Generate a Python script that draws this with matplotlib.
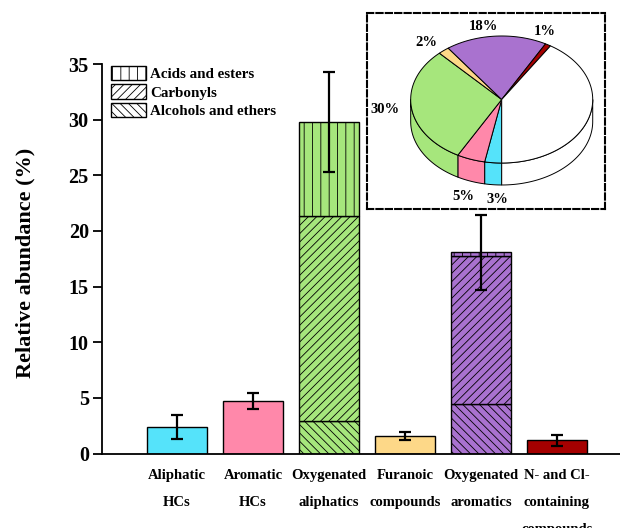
import numpy as np
import matplotlib
matplotlib.use('Agg')
import matplotlib.pyplot as plt
from matplotlib.patches import Patch

plt.rcParams['font.family'] = ['Liberation Serif', 'DejaVu Serif']
plt.rcParams['font.weight'] = 'bold'
plt.rcParams['hatch.linewidth'] = 0.6
plt.rcParams['hatch.color'] = 'black'

# bar data (relative abundance, %)
categories = ['Aliphatic\nHCs', 'Aromatic\nHCs', 'Oxygenated\naliphatics',
              'Furanoic\ncompounds', 'Oxygenated\naromatics',
              'N- and Cl-\ncontaining\ncompounds']
colors = ['#55E3FA', '#FF88AA', '#A6E67C', '#FDD888', '#A972CF', '#A50000']
errors = [1.08, 0.75, 4.5, 0.36, 3.35, 0.5]

plain_idx = [0, 1, 3, 5]
plain_vals = [2.4, 4.72, 1.55, 1.2]

oxy_idx = [2, 4]
alcohols_ethers = [2.9, 4.45]
carbonyls = [18.47, 13.3]
acids_esters = [8.41, 0.33]

# pie data (share of total, %)
pie_vals = [3, 5, 30, 2, 18, 1]
pie_labels = ['3%', '5%', '30%', '2%', '18%', '1%']

h_acid, h_carb, h_alc = '||', '////', '\\\\\\\\'

fig = plt.figure(figsize=(6.2, 5.28), dpi=100)
ax = fig.add_axes([102 / 620, 1 - 453.5 / 528, 1 - 102 / 620, (453.5 - 64) / 528])

x = np.arange(len(categories))
w = 0.79
ekw = dict(fmt='none', ecolor='black', elinewidth=1.6, capsize=4, capthick=1.6)

ax.bar(x[plain_idx], plain_vals, w, color=[colors[i] for i in plain_idx],
       edgecolor='black', linewidth=1)

ox = x[oxy_idx]
ocol = [colors[i] for i in oxy_idx]
b1 = np.array(alcohols_ethers)
b2 = b1 + np.array(carbonyls)
ax.bar(ox, alcohols_ethers, w, color=ocol, edgecolor='black', linewidth=1, hatch=h_alc)
ax.bar(ox, carbonyls, w, bottom=b1, color=ocol, edgecolor='black', linewidth=1, hatch=h_carb)
ax.bar(ox, acids_esters, w, bottom=b2, color=ocol, edgecolor='black', linewidth=1, hatch=h_acid)

totals = np.zeros(len(categories))
totals[plain_idx] = plain_vals
totals[oxy_idx] = b2 + np.array(acids_esters)
ax.errorbar(x, totals, yerr=errors, **ekw)

ax.set_xlim(-0.987, 5.83)
ax.set_ylim(0, 35)
ax.set_yticks(range(0, 36, 5))
ax.set_xticks(x)
ax.set_xticklabels(categories, fontsize=10.5, fontweight='bold', linespacing=2.4)
ax.tick_params(axis='x', length=0, pad=11)
ax.tick_params(axis='y', direction='out', length=6.5, width=1.3, pad=3, labelsize=14.5)
for s in ['top', 'right']:
    ax.spines[s].set_visible(False)
for s in ['left', 'bottom']:
    ax.spines[s].set_linewidth(1.3)
ax.set_ylabel('Relative abundance (%)', fontsize=16, fontweight='bold')
ax.yaxis.set_label_coords(-0.128, 0.49)

handles = [Patch(facecolor='white', edgecolor='black', hatch=h_acid, label='Acids and esters'),
           Patch(facecolor='white', edgecolor='black', hatch=h_carb, label='Carbonyls'),
           Patch(facecolor='white', edgecolor='black', hatch=h_alc, label='Alcohols and ethers')]
fig.legend(handles=handles, loc='upper left', bbox_to_anchor=(111 / 620, 1 - 66 / 528),
           frameon=False, borderpad=0, borderaxespad=0, handlelength=2.3,
           handleheight=1.1, labelspacing=0.2, handletextpad=0.3,
           prop={'size': 10.8, 'weight': 'bold'})

# inset: pseudo-3D pie, coordinates in units of the ellipse radii
ins = fig.add_axes([367 / 620, 1 - 209 / 528, (605 - 367) / 620, (209 - 13) / 528])
ins.set_xlim(-1.48, 1.135)
ins.set_ylim(-1.724, 1.362)
ins.set_xticks([])
ins.set_yticks([])
for s in ins.spines.values():
    s.set_linestyle((0, (3, 1.5)))
    s.set_linewidth(1.5)

depth = 0.346
vals = list(pie_vals) + [100 - sum(pie_vals)]
pcols = [colors[0], colors[1], colors[2], colors[3], colors[4], colors[5], 'white']
edges = 270 - np.concatenate([[0], np.cumsum(vals)]) * 3.6
wedges = [(edges[i + 1], edges[i]) for i in range(len(vals))]

# side walls on the front half
for (t2, t1), c in zip(wedges, pcols):
    for lo, hi in [(180, 360), (-180, 0)]:
        a, b = max(t2, lo), min(t1, hi)
        if b <= a:
            continue
        t = np.radians(np.linspace(a, b, 80))
        xs = np.concatenate([np.cos(t), np.cos(t[::-1])])
        ys = np.concatenate([np.sin(t), np.sin(t[::-1]) - depth])
        ins.fill(xs, ys, facecolor=c, edgecolor='black', linewidth=0.7)

# top faces
for (t2, t1), c in zip(wedges, pcols):
    t = np.radians(np.linspace(t2, t1, 120))
    xs = np.concatenate([[0], np.cos(t)])
    ys = np.concatenate([[0], np.sin(t)])
    ins.fill(xs, ys, facecolor=c, edgecolor='black', linewidth=0.7)

label_pos = [(-0.05, -1.567), (-0.42, -1.535), (-1.282, -0.15),
             (-0.832, 0.89), (-0.205, 1.142), (0.476, 1.063)]
for txt, (lx, ly) in zip(pie_labels, label_pos):
    ins.text(lx, ly, txt, ha='center', va='center', fontsize=10.5, fontweight='bold')

fig.savefig('out.png', dpi=100)
